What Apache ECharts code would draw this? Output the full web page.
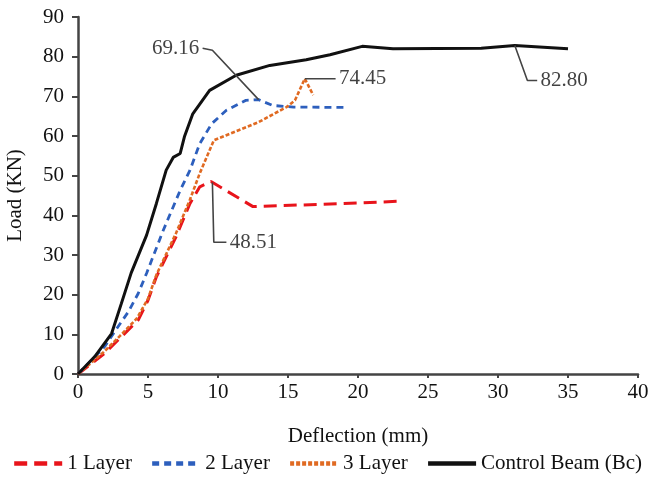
<!DOCTYPE html>
<html>
<head>
<meta charset="utf-8">
<script src="https://cdn.jsdelivr.net/npm/echarts@6/dist/echarts.min.js"></script>
<style>
  html, body { margin: 0; padding: 0; background: #fff; }
  #chart { width: 654px; height: 489px; }
</style>
</head>
<body>
<div id="chart"></div>
<script>
// load–deflection curves, [deflection mm, load kN]
const layer1 = [[0,0],[1.9,5.2],[3.1,9.4],[4.3,13.6],[5,18.6],[5.6,24.5],[7,34.6],[8,43],[8.7,47.2],[9.5,48.51],[12.5,42.2],[20,43.1],[23.2,43.6]]
const layer2 = [[0,0],[1.9,6.9],[2.7,11.1],[3.6,15.7],[4.3,20.3],[4.9,25.4],[6.1,36.3],[7.3,46.3],[8,51.4],[8.7,58.1],[9.55,63.1],[10.6,66.5],[12,69],[12.9,69.16],[13.9,67.7],[15.4,67.3],[19,67.2]]
const layer3 = [[0,0],[1.8,5.4],[3,9.6],[4.2,14],[5,19],[5.6,25],[7,35.5],[8,44],[8.7,50.6],[9.4,56.4],[9.7,58.9],[10.6,60.2],[12.9,63.5],[14.9,67.3],[15.5,69],[16.2,74.45],[16.8,70.3]]
const control = [[0,0],[1.2,4.4],[2.4,10.2],[3.1,17.8],[3.8,25.5],[4.9,35],[5.6,43],[6.3,51.4],[6.8,54.6],[7.3,55.6],[7.6,59.8],[8.2,65.6],[9.4,71.5],[11.3,75.3],[13.7,77.8],[16.3,79.2],[18,80.5],[20.3,82.6],[22.5,82],[28.8,82.1],[31.2,82.8],[35,82]]

const seriesNames = ['1 Layer', '2 Layer', '3 Layer', 'Control Beam (Bc)']

// peak callouts: leader polyline (data units) and label anchor
const callouts = [
    { text: '69.16', path: [[12.9,69.16],[9.6,81.6],[8.9,82.1]], at: [8.8,82.1], pos: 'left' },
    { text: '74.45', path: [[16.2,74.45],[18.4,74.45]], at: [18.5,74.6], pos: 'right' },
    { text: '48.51', path: [[9.6,48.3],[9.7,33.2],[10.6,33.2]], at: [10.7,33.2], pos: 'right' },
    { text: '82.80', path: [[31.2,82.8],[32.1,74],[32.8,74]], at: [32.9,74], pos: 'right' }
]

const font = 'Liberation Serif'
const fs = 21
const chart = echarts.init(document.getElementById('chart'))

function curve(name, data, color, width, dash) {
    return {
        name: name,
        type: 'line',
        data: data,
        showSymbol: false,
        symbol: 'none',
        smooth: false,
        lineStyle: { color: color, width: width, type: dash },
        itemStyle: { color: color },
        z: 3
    }
}

const series = [
    curve(seriesNames[0], layer1, '#e8141b', 3, [13, 7]),
    curve(seriesNames[1], layer2, '#2d5fbd', 2.8, [7, 5]),
    curve(seriesNames[2], layer3, '#e06a22', 2.6, [4, 2]),
    curve(seriesNames[3], control, '#111', 3, 'solid')
]

// leader lines + labels as plain helper series
callouts.forEach(c => {
    series.push({
        type: 'line',
        data: c.path,
        showSymbol: false,
        symbol: 'none',
        silent: true,
        lineStyle: { color: '#444', width: 1.6 },
        z: 4
    })
    series.push({
        type: 'scatter',
        data: [c.at],
        symbolSize: 0,
        silent: true,
        label: {
            show: true,
            formatter: c.text,
            position: c.pos,
            distance: 2,
            color: '#111',
            fontFamily: font,
            fontSize: fs
        },
        z: 5
    })
})

chart.setOption({
    animation: false,
    backgroundColor: '#fff',
    grid: { left: 78, right: 16, top: 17, bottom: 115, outerBoundsMode: 'none', containLabel: false },
    legend: {
        data: seriesNames,
        bottom: 10,
        left: 'center',
        itemWidth: 48,
        itemHeight: 10,
        itemGap: 18,
        itemStyle: { opacity: 0 },
        lineStyle: { width: 4.5 },
        textStyle: { fontFamily: font, fontSize: fs, color: '#111' }
    },
    xAxis: {
        type: 'value',
        min: 0, max: 40, interval: 5,
        name: 'Deflection (mm)',
        nameLocation: 'middle',
        nameGap: 52,
        nameTextStyle: { fontFamily: font, fontSize: fs, color: '#111' },
        axisLine: { lineStyle: { color: '#444', width: 2.5 } },
        axisTick: { show: true, length: 4, lineStyle: { color: '#444', width: 2 } },
        axisLabel: { fontFamily: font, fontSize: fs, color: '#111', margin: 8 },
        splitLine: { show: false }
    },
    yAxis: {
        type: 'value',
        min: 0, max: 90, interval: 10,
        name: 'Load (KN)',
        nameLocation: 'middle',
        nameGap: 52,
        nameTextStyle: { fontFamily: font, fontSize: fs, color: '#111' },
        axisLine: { show: true, lineStyle: { color: '#444', width: 2.5 } },
        axisTick: { show: true, length: 6, lineStyle: { color: '#444', width: 2 } },
        axisLabel: { fontFamily: font, fontSize: fs, color: '#111', margin: 14 },
        splitLine: { show: false }
    },
    series: series
})
</script>
</body>
</html>
